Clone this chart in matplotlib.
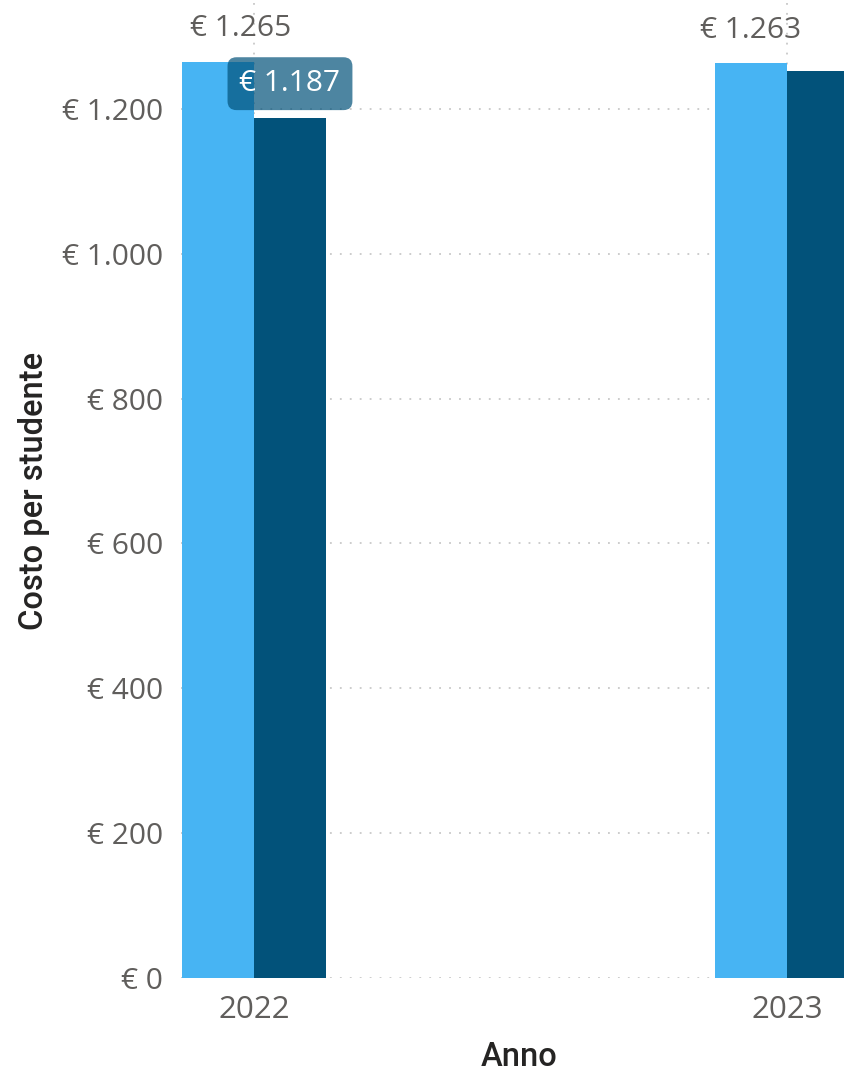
import matplotlib
matplotlib.use("Agg")
import matplotlib.pyplot as plt
import numpy as np

# ---- data ----
years = ["2022", "2023"]
cost_light = [1265, 1263]
cost_dark = [1187, 1252]
yticks = [0, 200, 400, 600, 800, 1000, 1200]

LIGHT = "#47B4F3"
DARK = "#02527A"
GRAY = "#605E5C"
GRID = "#C8C8C8"

W, H = 845, 1073
fig = plt.figure(figsize=(W / 100, H / 100), dpi=100)
ax = fig.add_axes([181 / W, 1 - 978 / H, (W - 181) / W, 978 / H])

x = np.arange(len(years))
bw = 0.135
ax.set_xlim(-0.137, 1.109)
ax.set_ylim(0, 1350.5)

def eur(v):
    return "€ " + f"{int(v):,}".replace(",", ".")

# grid
for yv in yticks:
    ax.axhline(yv, color=GRID, lw=1.3, ls=(0, (1, 4.5)), zorder=0)
for xv in x:
    ax.axvline(xv, color=GRID, lw=1.3, ls=(0, (1, 4.5)), zorder=0)

ax.bar(x - bw / 2, cost_light, bw, color=LIGHT, zorder=2, linewidth=0)
ax.bar(x + bw / 2, cost_dark, bw, color=DARK, zorder=2, linewidth=0)

tick_font = dict(family=["Open Sans", "DejaVu Sans"])
title_font = dict(family=["Roboto", "DejaVu Sans"])
FS = 21.5

# labels on light bars
label_shift = [0.043, 0.0]
for xi, v, s in zip(x, cost_light, label_shift):
    ax.annotate(eur(v), (xi - bw / 2 + s, v), xytext=(0, 24), textcoords="offset points",
                ha="center", va="center", fontsize=FS, color=GRAY, **tick_font,
                annotation_clip=False, zorder=4)

# tooltip-like label on first dark bar
ax.annotate(eur(cost_dark[0]), (x[0] + bw / 2, cost_dark[0]), xytext=(0, 25),
            textcoords="offset points", ha="center", va="center", fontsize=FS,
            color="white", **tick_font, zorder=5,
            bbox=dict(boxstyle="round,pad=0.4,rounding_size=0.3", fc=DARK, ec="none", alpha=0.7))

ax.set_yticks(yticks)
ax.set_yticklabels([eur(v) for v in yticks], fontsize=FS, color=GRAY, **tick_font)
ax.set_xticks(x)
ax.set_xticklabels(years, fontsize=22.5, color=GRAY, **tick_font)
ax.tick_params(axis="y", length=0, pad=13)
ax.tick_params(axis="x", length=0, pad=12)

fig.text(34 / W, 1 - 491 / H, "Costo per studente", rotation=90, ha="center", va="center",
         fontsize=23.5, color="#252423", fontweight="medium", **title_font)
fig.text(519 / W, 1 - 1057 / H, "Anno", ha="center", va="center",
         fontsize=23.5, color="#252423", fontweight="medium", **title_font)

for sp in ax.spines.values():
    sp.set_visible(False)
ax.set_facecolor("white")

fig.savefig("out.png", dpi=100, facecolor="white")
